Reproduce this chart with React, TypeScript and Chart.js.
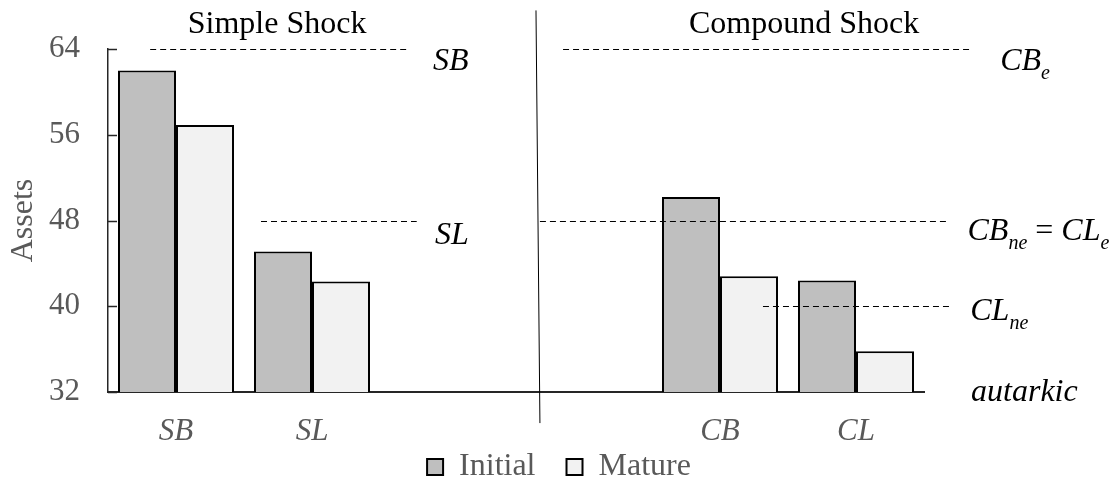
import React, { useEffect, useRef } from 'react';
import { Chart, registerables } from 'chart.js';

Chart.register(...registerables);

// ---------- data ----------
const categories = ['SB', 'SL', '', '', 'CB', 'CL'];
const initialValues = [62.0, 45.1, null, null, 50.2, 42.4];
const matureValues = [56.9, 42.3, null, null, 42.8, 35.8];
const yTicks = [32, 40, 48, 56, 64];
const seriesNames = ['Initial', 'Mature'];
const panelTitles = ['Simple Shock', 'Compound Shock'];
const refLabels = ['SB', 'SL', 'CB_e', 'CB_ne = CL_e', 'CL_ne', 'autarkic'];
const refLevels = [64, 48, 64, 48, 40, 32];
const axisTitle = 'Assets';

// ---------- layout / style (not data) ----------
const SERIF = "'Liberation Serif', 'Times New Roman', Times, serif";
const GRAY = '#595959';
// x extents of reference dashed lines, in category-index units
const refLineSpans: (number[] | null)[] = [
  [-0.19, 1.71],
  [0.625, 1.77],
  [2.846, 5.838],
  [2.676, 5.669],
  [4.316, 5.713],
  null,
];
// label anchor (category-index units) and pixel offset below the level
const refLabelPos = [
  { x: 1.89, dy: 21 },
  { x: 1.904, dy: 23 },
  { x: 6.06, dy: 21 },
  { x: 5.82, dy: 19 },
  { x: 5.84, dy: 14 },
  { x: 5.846, dy: 9 },
];
const panelTitlePos = [
  { x: 0.743, level: 64, dy: -16 },
  { x: 4.618, level: 64, dy: -16 },
];
const separator = { xTop: 2.647, yTop: 67.6, xBottom: 2.676, yBottom: 29.1 };

type Part = { t: string; sub?: boolean; upright?: boolean };
function parseLabel(s: string): Part[] {
  const parts: Part[] = [];
  const tokens = s.split(' ');
  tokens.forEach((tok, i) => {
    if (i > 0) parts.push({ t: ' ', upright: true });
    if (tok === '=') {
      parts.push({ t: '=', upright: true });
      return;
    }
    const [main, sub] = tok.split('_');
    parts.push({ t: main });
    if (sub) parts.push({ t: sub, sub: true });
  });
  return parts;
}

function drawRich(ctx: CanvasRenderingContext2D, x: number, y: number, parts: Part[], size: number) {
  let cx = x;
  ctx.textAlign = 'left';
  ctx.textBaseline = 'alphabetic';
  for (const p of parts) {
    if (p.sub) {
      ctx.font = `italic ${Math.round(size * 0.64)}px ${SERIF}`;
      ctx.fillText(p.t, cx, y + 9);
    } else {
      ctx.font = `${p.upright ? '' : 'italic '}${size}px ${SERIF}`;
      ctx.fillText(p.t, cx, y);
    }
    cx += ctx.measureText(p.t).width;
  }
}

const annotationPlugin = {
  id: 'annotations',
  afterDatasetsDraw(chart: any) {
    const ctx: CanvasRenderingContext2D = chart.ctx;
    const xs = chart.scales.x;
    const ys = chart.scales.y;
    const area = chart.chartArea;
    ctx.save();
    // inward y ticks
    ctx.strokeStyle = '#262626';
    ctx.lineWidth = 1.5;
    yTicks.forEach((v) => {
      const py = Math.round(ys.getPixelForValue(v)) + 0.5;
      ctx.beginPath();
      ctx.moveTo(area.left, py);
      ctx.lineTo(area.left + 9, py);
      ctx.stroke();
    });
    // dashed reference lines
    ctx.strokeStyle = '#000';
    ctx.lineWidth = 1;
    ctx.setLineDash([6, 4]);
    refLevels.forEach((lv, i) => {
      const span = refLineSpans[i];
      if (!span) return;
      const py = Math.round(ys.getPixelForValue(lv)) + 0.5;
      ctx.beginPath();
      ctx.moveTo(xs.getPixelForValue(span[0]), py);
      ctx.lineTo(xs.getPixelForValue(span[1]), py);
      ctx.stroke();
    });
    ctx.setLineDash([]);
    // separator
    ctx.strokeStyle = '#000';
    ctx.lineWidth = 1;
    ctx.beginPath();
    ctx.moveTo(xs.getPixelForValue(separator.xTop), ys.getPixelForValue(separator.yTop));
    ctx.lineTo(xs.getPixelForValue(separator.xBottom), ys.getPixelForValue(separator.yBottom));
    ctx.stroke();
    // reference labels
    ctx.fillStyle = '#000';
    refLabels.forEach((lab, i) => {
      const pos = refLabelPos[i];
      drawRich(ctx, xs.getPixelForValue(pos.x), ys.getPixelForValue(refLevels[i]) + pos.dy, parseLabel(lab), 32);
    });
    // panel titles
    ctx.font = `32px ${SERIF}`;
    ctx.textAlign = 'center';
    ctx.textBaseline = 'alphabetic';
    panelTitles.forEach((t, i) => {
      const p = panelTitlePos[i];
      ctx.fillText(t, xs.getPixelForValue(p.x), ys.getPixelForValue(p.level) + p.dy);
    });
    ctx.restore();
  },
};

export default function App() {
  const ref = useRef<HTMLCanvasElement | null>(null);
  useEffect(() => {
    if (!ref.current) return;
    const chart = new Chart(ref.current, {
      type: 'bar',
      data: {
        labels: categories,
        datasets: [
          {
            label: seriesNames[0],
            data: initialValues,
            backgroundColor: '#bfbfbf',
            borderColor: '#000',
            borderWidth: 2,
            borderSkipped: false,
            categoryPercentage: 0.853,
            barPercentage: 1,
          },
          {
            label: seriesNames[1],
            data: matureValues,
            backgroundColor: '#f2f2f2',
            borderColor: '#000',
            borderWidth: 2,
            borderSkipped: false,
            categoryPercentage: 0.853,
            barPercentage: 1,
          },
        ],
      } as any,
      options: {
        animation: false,
        responsive: false,
        layout: { padding: { top: 49, left: 0, right: 0, bottom: 0 } },
        plugins: {
          tooltip: { enabled: false },
          legend: {
            position: 'bottom',
            maxHeight: 59,
            labels: {
              color: GRAY,
              font: { family: SERIF, size: 32 },
              boxWidth: 16,
              boxHeight: 16,
              padding: 31,
            },
          },
        },
        scales: {
          x: {
            grid: { display: false, drawTicks: false },
            border: { display: true, color: '#262626', width: 2 },
            ticks: {
              color: GRAY,
              font: { family: SERIF, size: 31, style: 'italic' },
              mirror: true,
              padding: -58,
              maxRotation: 0,
              autoSkip: false,
            },
            afterFit: (s: any) => {
              s.height = 28;
            },
          },
          y: {
            min: 32,
            max: 64,
            grid: { display: false, drawTicks: false },
            border: { display: true, color: '#262626', width: 1.5 },
            ticks: {
              stepSize: 8,
              color: GRAY,
              font: { family: SERIF, size: 31 },
              padding: 28,
            },
            title: {
              display: true,
              text: axisTitle,
              color: GRAY,
              font: { family: SERIF, size: 32 },
              padding: 4,
            },
            afterFit: (s: any) => {
              s.width = 108;
            },
          },
          y2: {
            position: 'right',
            display: true,
            grid: { display: false, drawTicks: false },
            border: { display: false },
            ticks: { display: false },
            afterFit: (s: any) => {
              s.width = 194;
            },
          },
        },
      } as any,
      plugins: [annotationPlugin],
    });
    return () => chart.destroy();
  }, []);
  return (
    <div style={{ position: 'absolute', left: 0, top: 0, width: 1118, height: 479, background: '#fff' }}>
      <canvas ref={ref} width={1118} height={479} style={{ display: 'block' }} />
    </div>
  );
}
